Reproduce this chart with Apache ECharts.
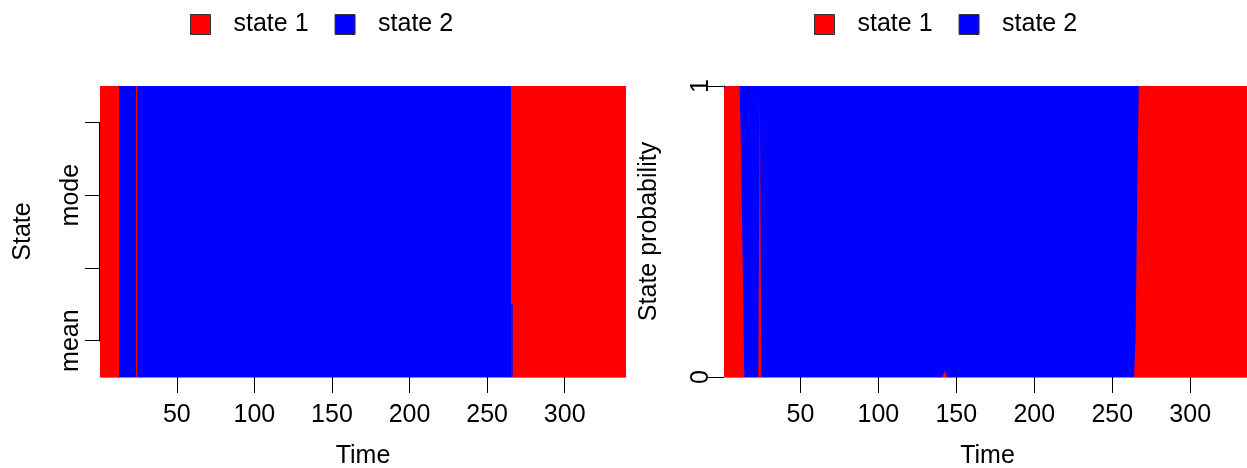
<!DOCTYPE html>
<html>
<head>
<meta charset="utf-8">
<script src="https://cdn.jsdelivr.net/npm/echarts@6/dist/echarts.min.js"></script>
<style>
  html, body { margin: 0; padding: 0; background: #ffffff; }
  #chart { width: 1247px; height: 468px; }
</style>
</head>
<body>
<div id="chart"></div>
<script>
// Time axis ticks shared by both panels
const timeTicks = [50, 100, 150, 200, 250, 300];
const timeCount = 339;

// Rows of the state panel, bottom to top (unlabelled rows keep an empty tick label)
const stateRowLabels = ['mean', '', 'mode', ''];

// Decoded state runs per row: [first time, last time, state]; fractional state = mixed colour
const meanRuns = [[1, 12, 1], [13, 23, 2], [24, 24, 1], [25, 265, 2], [266, 266, 1.7], [267, 339, 1]];
const modeRuns = [[1, 12, 1], [13, 23, 2], [24, 24, 1], [25, 265, 2], [266, 339, 1]];
const rowRuns = [meanRuns, modeRuns, modeRuns, modeRuns];

// State probabilities at the times where they change
const probTime   = [1,    2, 11, 12,   13,   14, 23, 24,   25, 141, 142,   143,   144, 145, 264, 265,  266,  267, 339];
const probState1 = [0.99, 1, 1,  0.75, 0.38, 0,  0,  0.97, 0,  0,   0.004, 0.022, 0,   0,   0,   0.14, 0.62, 1,   1];
const probState2 = [0.01, 0, 0,  0.25, 0.62, 1,  1,  0.03, 1,  1,   0.996, 0.978, 1,   1,   1,   0.86, 0.38, 0,   0];

const RED = '#FF0000';
const BLUE = '#0000FF';
const FONT = 'Liberation Sans, Arial, Helvetica, sans-serif';

function stateColor(v) {
  const w = Math.min(1, Math.max(0, v - 1));
  return 'rgb(' + Math.round(255 * (1 - w)) + ',0,' + Math.round(255 * w) + ')';
}

const cells = [];
rowRuns.forEach(function (runs, row) {
  runs.forEach(function (r) { cells.push([row, r[0], r[1], r[2]]); });
});

// stacked bands: state 1 from 0 up to p1, state 2 from p1 up to p1 + p2
const band1Top = probTime.map(function (t, i) { return [t, probState1[i]]; });
const band2Top = probTime.map(function (t, i) { return [t, probState1[i] + probState2[i]]; });

const textBase = { color: '#000000', fontFamily: FONT, fontSize: 25 };

function timeAxis(gridIndex, min, max) {
  return {
    type: 'value', gridIndex: gridIndex, min: min, max: max,
    name: 'Time', nameLocation: 'middle', nameGap: 67,
    nameTextStyle: textBase,
    axisLine: { show: true, lineStyle: { color: '#8c8c8c', width: 1 } },
    axisTick: { show: true, length: 16, customValues: timeTicks, lineStyle: { color: '#000', width: 1 } },
    axisLabel: Object.assign({ customValues: timeTicks, margin: 26 }, textBase),
    splitLine: { show: false }
  };
}

function topEdge(gridIndex, min, max) {
  return {
    type: 'value', gridIndex: gridIndex, position: 'top', min: min, max: max,
    axisLine: { show: true, lineStyle: { color: '#8c8c8c', width: 1 } },
    axisTick: { show: false }, axisLabel: { show: false }, splitLine: { show: false }
  };
}

function legendAt(left) {
  return {
    left: left, top: 12, padding: 0, orient: 'horizontal',
    data: ['state 1', 'state 2'],
    icon: 'rect', itemWidth: 20, itemHeight: 20, itemGap: 26,
    itemStyle: { borderColor: '#333333', borderWidth: 1 },
    textStyle: Object.assign({ padding: [0, 0, 0, 18] }, textBase),
    selectedMode: false
  };
}

const option = {
  animation: false,
  backgroundColor: '#ffffff',
  legend: [legendAt(190), legendAt(814)],
  grid: [
    { left: 100, top: 86, width: 526, height: 291, containLabel: false, outerBoundsMode: 'none' },
    { left: 724, top: 86, width: 527, height: 291, containLabel: false, outerBoundsMode: 'none' }
  ],
  xAxis: [
    timeAxis(0, 0.5, timeCount + 0.5),
    timeAxis(1, 1, timeCount),
    topEdge(0, 0.5, timeCount + 0.5),
    topEdge(1, 1, timeCount)
  ],
  yAxis: [
    {
      type: 'category', gridIndex: 0, data: stateRowLabels,
      name: 'State', nameLocation: 'middle', nameGap: 64,
      nameTextStyle: textBase,
      axisLine: { show: false },
      axisTick: { show: true, alignWithLabel: true, length: 15, lineStyle: { color: '#000', width: 1 } },
      axisLabel: Object.assign({ rotate: 90, margin: 16, interval: 0 }, textBase),
      splitLine: { show: false }
    },
    {
      type: 'value', gridIndex: 1, min: 0, max: 1, interval: 1,
      name: 'State probability', nameLocation: 'middle', nameGap: 62,
      nameTextStyle: textBase,
      axisLine: { show: true, lineStyle: { color: '#000', width: 1 } },
      axisTick: { show: true, length: 16, lineStyle: { color: '#000', width: 1 } },
      axisLabel: Object.assign({ rotate: 90, margin: 10 }, textBase),
      splitLine: { show: false }
    }
  ],
  series: [
    {
      // state sequence image: one rectangle per run of equal state
      type: 'custom', name: 'State sequence',
      xAxisIndex: 0, yAxisIndex: 0,
      data: cells,
      encode: { x: [1, 2], y: 0 },
      renderItem: function (params, api) {
        const row = api.value(0);
        const a = api.coord([api.value(1) - 0.5, row]);
        const b = api.coord([api.value(2) + 0.5, row]);
        const h = api.size([0, 1])[1];
        const x0 = Math.round(a[0]), x1 = Math.round(b[0]);
        const y0 = Math.round(a[1] - h / 2), y1 = Math.round(a[1] + h / 2);
        return {
          type: 'rect',
          shape: { x: x0, y: y0, width: x1 - x0, height: y1 - y0 },
          style: { fill: stateColor(api.value(3)) }
        };
      },
      silent: true
    },
    {
      // left axis line, running from the first to the last row tick
      type: 'custom', name: 'State axis',
      xAxisIndex: 0, yAxisIndex: 0,
      data: [[0, stateRowLabels.length - 1]],
      renderItem: function (params, api) {
        const a = api.coord([0.5, api.value(0)]);
        const b = api.coord([0.5, api.value(1)]);
        const x = Math.round(a[0]) - 0.5;
        return {
          type: 'line',
          shape: { x1: x, y1: Math.round(a[1]) + 0.5, x2: x, y2: Math.round(b[1]) + 0.5 },
          style: { stroke: '#000', lineWidth: 1 }
        };
      },
      clip: false, silent: true, z: 5
    },
    {
      type: 'line', name: 'state 2',
      xAxisIndex: 1, yAxisIndex: 1,
      data: band2Top,
      showSymbol: false, symbol: 'none',
      itemStyle: { color: BLUE },
      lineStyle: { width: 0 },
      areaStyle: { color: BLUE, opacity: 1, origin: 'start' },
      silent: true, z: 2
    },
    {
      type: 'line', name: 'state 1',
      xAxisIndex: 1, yAxisIndex: 1,
      data: band1Top,
      showSymbol: false, symbol: 'none',
      itemStyle: { color: RED },
      lineStyle: { width: 0 },
      areaStyle: { color: RED, opacity: 1, origin: 'start' },
      silent: true, z: 3
    }
  ]
};

const chart = echarts.init(document.getElementById('chart'), null, { renderer: 'canvas' });
chart.setOption(option);
</script>
</body>
</html>
